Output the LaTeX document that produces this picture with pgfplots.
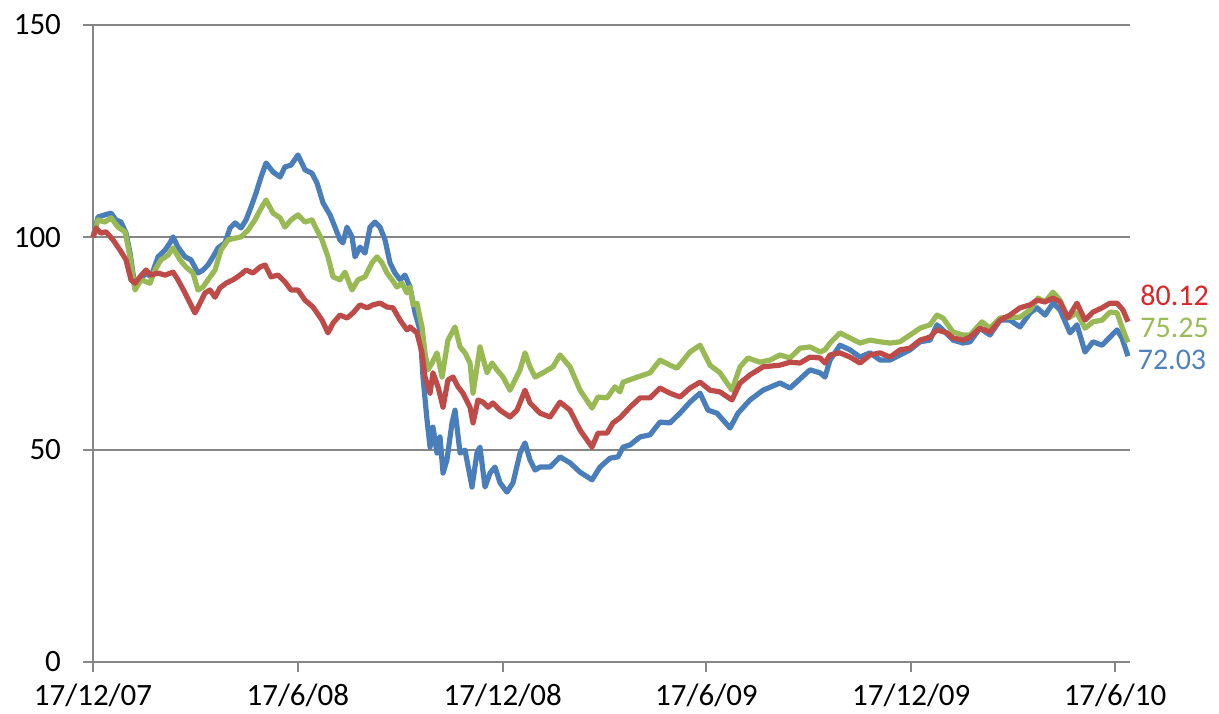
\documentclass[border=0pt]{standalone}
\usepackage{fontspec}
\setmainfont{Carlito}
\usepackage{pgfplots}
\usepackage{pgfplotstable}
\pgfplotsset{compat=1.18}
\definecolor{sblue}{RGB}{74,126,187}
\definecolor{sred}{RGB}{190,75,72}
\definecolor{sgreen}{RGB}{152,185,84}
\definecolor{axgray}{RGB}{134,134,134}
\definecolor{lblred}{RGB}{218,38,40}
\definecolor{lblgreen}{RGB}{155,187,89}
\definecolor{lblblue}{RGB}{79,129,189}

\pgfplotstableread{
d v
0 100
4.5 104.8
10.7 105.3
16.1 105.7
20.5 104.1
25.0 103.6
29.5 101.0
33.1 96.3
37.5 88.3
42.0 90.0
47.3 91.6
51.8 90.7
58.1 95.4
64.3 97.0
68.8 98.7
71.5 100.1
75.9 97.7
82.2 95.4
87.5 94.7
93.8 91.6
98.3 92.3
102.7 93.5
107.2 95.4
111.7 97.5
117.9 98.7
122.4 102.2
126.9 103.4
132.2 102.2
136.7 104.1
141.1 107.1
145.6 110.4
150.1 114.2
154.6 117.5
160.8 115.4
167.1 114.2
171.5 116.6
176.9 117.0
181.3 118.7
183.1 119.4
189.4 115.9
195.6 115.1
200.1 112.8
205.5 108.1
211.7 105.3
216.2 102.4
220.6 99.4
223.3 98.7
226.9 102.4
231.4 100.1
234.1 95.4
238.5 97.7
243.0 96.3
247.5 102.4
251.9 103.6
256.4 102.4
260.9 99.4
265.3 94.0
269.8 91.6
274.3 90.0
278.7 91.1
283.2 88.3
287.7 82.2
292.1 78.2
294.8 67.1
298.4 57.0
301.1 50.6
303.7 55.3
307.3 49.2
310.0 53.0
312.7 44.5
316.2 47.6
320.7 56.3
323.4 59.3
327.9 49.2
332.3 49.9
338.6 41.2
343.0 49.2
345.7 50.6
350.2 41.2
354.7 44.5
359.1 45.9
363.6 42.2
369.8 40.0
375.2 42.2
381.5 49.2
385.9 51.6
390.4 47.6
394.9 45.2
399.3 45.9
408.3 45.9
417.2 48.3
426.1 46.9
435.1 44.7
445.8 42.9
452.9 45.9
461.9 48.0
469.0 48.3
473.5 50.6
479.7 51.1
488.7 53.0
497.6 53.5
506.5 56.5
515.4 56.3
524.4 58.6
533.3 61.2
542.3 63.3
549.4 59.3
557.4 58.6
569.1 55.1
576.2 58.6
586.9 61.7
598.5 64.0
613.7 65.7
622.7 64.5
640.5 68.8
649.5 68.1
653.9 67.1
658.4 71.1
667.3 74.6
676.3 73.5
685.2 71.8
694.1 72.8
703.1 71.1
712.0 71.1
720.9 72.3
729.9 73.5
738.8 75.4
747.7 75.8
754.0 79.4
759.3 78.2
768.3 75.8
777.2 75.1
783.5 75.4
792.4 78.6
801.3 77.0
810.3 80.5
819.2 80.5
828.1 78.9
837.1 82.2
843.3 83.4
850.5 81.7
857.6 84.5
863.9 82.9
872.8 77.5
879.0 79.4
886.2 73.0
893.3 75.4
901.4 74.6
908.5 76.5
914.8 78.2
919.2 76.3
924.6 72.03
}\blue

\pgfplotstableread{
d v
0 100
4.5 104.1
10.7 103.6
16.1 104.6
22.3 102.4
28.6 101.3
33.1 95.4
37.5 87.6
42.9 90.0
50.9 89.2
55.4 92.3
60.7 94.7
67.0 95.8
71.5 97.5
77.7 94.7
83.1 93.0
89.3 91.6
93.8 87.6
98.3 88.3
102.7 90.0
109.0 92.3
114.3 97.0
120.6 99.4
126.9 99.8
132.2 100.1
138.5 101.7
144.7 104.1
149.2 106.4
154.6 108.8
160.8 105.7
167.1 104.6
171.5 102.4
176.9 104.1
183.1 105.3
189.4 103.6
195.6 104.1
200.1 101.7
204.6 99.4
209.9 95.4
214.4 90.7
220.6 90.0
225.1 91.8
231.4 87.6
236.7 90.0
243.0 90.7
249.2 94.0
253.7 95.4
258.2 94.0
262.6 91.6
267.1 90.0
271.6 88.3
276.0 89.2
280.5 86.9
283.2 88.3
285.9 84.1
289.4 84.5
293.9 78.9
296.6 72.8
299.3 68.8
302.8 70.4
307.3 72.8
311.8 67.1
317.1 75.8
323.4 78.9
327.9 74.2
332.3 72.8
336.8 70.4
339.5 63.3
345.7 74.2
352.0 68.1
356.4 70.4
360.9 68.8
366.3 67.1
372.5 64.0
381.5 68.8
385.9 72.8
390.4 69.5
394.9 67.1
402.0 68.1
410.9 69.5
417.2 72.3
426.1 69.5
435.1 64.0
445.8 59.8
451.1 62.4
459.2 62.2
466.3 64.8
470.8 63.6
473.5 65.9
484.2 66.9
497.6 68.1
506.5 71.1
515.4 69.9
521.7 69.2
533.3 73.0
542.3 74.6
551.2 69.9
560.1 68.1
570.8 64.0
578.0 69.5
585.1 71.6
595.8 70.6
604.8 71.1
613.7 72.3
622.7 71.6
631.6 73.9
640.5 74.2
649.5 73.0
653.9 73.5
658.4 75.1
667.3 77.5
676.3 76.3
685.2 75.1
694.1 75.8
703.1 75.4
712.0 75.1
720.9 75.4
729.9 77.0
738.8 78.6
747.7 79.4
754.0 81.7
759.3 81.0
768.3 77.7
777.2 77.0
783.5 77.0
794.2 80.1
801.3 78.6
810.3 81.0
819.2 81.2
828.1 81.2
837.1 82.9
844.2 85.7
850.5 84.8
857.6 87.1
863.9 85.2
871.0 81.0
879.0 82.2
886.2 78.6
893.3 80.1
901.4 80.5
908.5 82.4
914.8 82.2
920.1 78.2
924.6 75.25
}\green

\pgfplotstableread{
d v
0 100
2.7 102.2
7.1 101.0
11.6 101.3
17.9 99.4
24.1 97.0
29.5 94.7
33.9 90.0
37.5 89.2
42.0 90.7
47.3 92.3
51.8 91.1
58.1 91.6
64.3 91.1
71.5 91.8
75.9 90.0
82.2 86.9
86.7 84.5
91.1 82.2
95.6 84.5
100.0 86.9
104.5 87.6
109.0 85.9
113.4 88.1
118.8 89.2
125.1 90.0
131.3 91.1
136.7 92.3
142.9 91.6
149.2 93.0
153.7 93.5
159.0 90.7
165.3 91.1
171.5 89.5
176.9 87.6
183.1 87.6
189.4 85.2
196.5 83.6
204.6 80.5
209.9 77.5
214.4 79.8
220.6 81.7
226.9 81.0
232.3 82.2
238.5 84.1
244.8 83.4
250.1 84.1
256.4 84.5
262.6 83.6
268.0 83.4
274.3 80.5
280.5 78.2
283.2 78.9
289.4 77.5
293.9 72.8
296.6 67.1
301.1 63.3
303.7 68.1
308.2 64.8
312.7 60.0
317.1 66.4
321.6 67.1
326.1 64.8
330.5 63.3
336.8 60.0
339.5 56.3
343.9 61.7
348.4 61.2
352.9 60.0
357.3 61.0
363.6 59.3
372.5 57.7
378.8 59.3
385.9 64.0
390.4 61.0
399.3 58.6
408.3 57.7
417.2 61.2
426.1 59.3
435.1 54.6
445.8 50.6
451.1 53.9
459.2 53.9
464.5 56.3
470.8 57.5
479.7 60.0
488.7 62.2
497.6 62.2
506.5 64.5
515.4 63.3
524.4 62.4
533.3 64.5
542.3 65.9
551.2 64.0
560.1 63.6
570.8 61.7
578.0 65.7
586.9 67.6
598.5 69.5
613.7 69.9
622.7 70.6
631.6 70.4
640.5 71.8
649.5 71.6
653.9 70.4
658.4 72.3
667.3 72.8
676.3 71.8
685.2 70.4
694.1 72.3
703.1 72.8
712.0 71.8
720.9 73.5
729.9 73.9
738.8 75.8
747.7 76.5
754.0 78.2
762.9 77.5
768.3 76.3
777.2 75.8
783.5 76.5
792.4 78.6
801.3 77.7
810.3 80.5
819.2 81.7
828.1 83.4
837.1 84.1
843.3 85.2
850.5 84.8
857.6 85.7
863.9 84.8
871.0 81.0
879.0 84.5
886.2 80.5
893.3 82.4
901.4 83.4
908.5 84.5
914.8 84.5
920.1 82.9
924.6 80.12
}\red

\begin{document}
\begin{tikzpicture}
\begin{axis}[name=ax,
  scale only axis, width=518.5pt, height=318.5pt,
  xmin=0, xmax=926.4, ymin=0, ymax=150,
  axis x line*=bottom, axis y line*=left,
  axis line style={draw=axgray, line width=1pt, -},
  ymajorgrids, grid style={draw=axgray, line width=1pt},
  ytick={0,50,100,150},
  xtick={0,183,366,548,731,913},
  xticklabels={17/12/07,17/6/08,17/12/08,17/6/09,17/12/09,17/6/10},
  tick align=outside, major tick length=5pt,
  tick style={draw=axgray, line width=1pt},
  tick label style={font=\fontsize{15.5}{18}\selectfont, text=black},
  yticklabel style={xshift=-7.5pt},
  xticklabel style={yshift=-2.5pt},
  /pgf/number format/assume math mode=true,
  clip=false,
  every axis plot/.append style={line width=2.6pt, line join=round, no marks},
]
\addplot[sblue] table[x=d,y=v]{\blue};
\addplot[sgreen] table[x=d,y=v]{\green};
\addplot[sred] table[x=d,y=v]{\red};
\node[anchor=west, inner sep=0pt, text=lblred, font=\fontsize{15}{18}\selectfont] at (axis cs:935.3,86.4) {80.12};
\node[anchor=west, inner sep=0pt, text=lblgreen, font=\fontsize{15}{18}\selectfont] at (axis cs:935.3,78.6) {75.25};
\node[anchor=west, inner sep=0pt, text=lblblue, font=\fontsize{15}{18}\selectfont] at (axis cs:933.0,71.1) {72.03};
\end{axis}
\pgfresetboundingbox
\path[use as bounding box] ([xshift=-46.5pt,yshift=-25.5pt]ax.south west) rectangle ([xshift=44.5pt,yshift=12.5pt]ax.north east);
\end{tikzpicture}
\end{document}
